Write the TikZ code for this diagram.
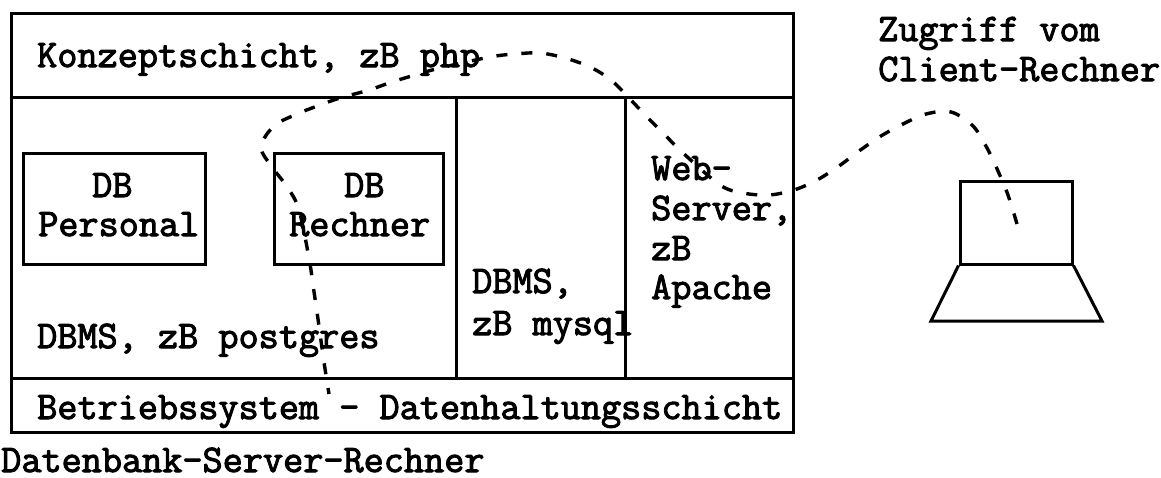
\documentclass[tikz,border=0pt]{standalone}
\usepackage{fontspec}
\setmonofont[FakeBold=2.6]{Latin Modern Mono}
\tikzset{
  px/.style={x=1pt,y=-1pt},
  frameline/.style={line width=3pt,draw=black},
  boxline/.style={frameline,inner sep=0pt,rectangle},
  lbl/.style={anchor=base west,inner sep=0pt,font=\fontsize{39.1}{39.1}\selectfont\ttfamily,text=black},
  link/.style={draw=black,line width=3.4pt,dash pattern=on 11pt off 14pt}
}
\begin{document}
\begin{tikzpicture}[px]
\useasboundingbox[fill=white] (0,0) rectangle (1161,477);
% outer frame and layers
\coordinate (oTL) at (11,13); \coordinate (oBR) at (793,432);
\draw[frameline] (oTL) rectangle (oBR);
\coordinate (l1a) at (11,97); \coordinate (l1b) at (793,97);
\coordinate (l2a) at (11,378); \coordinate (l2b) at (793,378);
\draw[frameline] (l1a) -- (l1b);
\draw[frameline] (l2a) -- (l2b);
\coordinate (v1a) at (456,97); \coordinate (v1b) at (456,378);
\coordinate (v2a) at (625,97); \coordinate (v2b) at (625,378);
\draw[frameline] (v1a) -- (v1b);
\draw[frameline] (v2a) -- (v2b);
% inner boxes
\node[boxline,minimum width=182pt,minimum height=111pt] (personal) at (114,208.5) {};
\node[boxline,minimum width=169pt,minimum height=111pt] (rechner) at (358.5,208.5) {};
% laptop
\node[boxline,minimum width=112pt,minimum height=83pt] (screen) at (1016,222.5) {};
\coordinate (bl) at (931,321); \coordinate (br) at (1102,321);
\draw[frameline] (screen.south west) -- (bl) -- (br) -- (screen.south east);
% labels
\node[lbl] (t1) at (37,67) {Konzeptschicht, zB php};
\node[lbl] (t2) at (92,197) {DB};
\node[lbl] (t3) at (38,236) {Personal};
\node[lbl] (t4) at (344,197) {DB};
\node[lbl] (t5) at (289,236) {Rechner};
\node[lbl] (t6) at (37,348) {DBMS, zB postgres};
\node[lbl] (t7) at (472,293) {DBMS,};
\node[lbl] (t8) at (472,335) {zB mysql};
\node[lbl] (t9) at (651,180) {Web-};
\node[lbl] (t10) at (651,220) {Server,};
\node[lbl] (t11) at (651,260) {zB};
\node[lbl] (t12) at (651,299) {Apache};
\node[lbl] (t13) at (37,419) {Betriebssystem - Datenhaltungsschicht};
\node[lbl] (t14) at (1,472) {Datenbank-Server-Rechner};
\node[lbl] (t15) at (878,41) {Zugriff vom};
\node[lbl] (t16) at (878,81) {Client-Rechner};
% dashed access path
\coordinate (start) at (1017,224);
\coordinate (stop) at (329,394);
\draw[link] plot[smooth,tension=0.55] coordinates {(start) (1008,195) (998,171) (987,148) (973,126) (951,112) (926,114) (903,124) (881,136) (859,151) (839,166) (817,180) (794,190) (769,195) (743,193) (720,185) (683,153) (665,135) (647,117) (629,98) (611,80) (590,67) (565,58) (540,53) (515,54) (490,57) (440,68) (415,75) (392,82) (369,90) (340,98) (320,105) (297,114) (274,126) (261,147) (272,167) (288,188) (299,210) (309,258) (313,285) (317,312) (324,362) (stop)};
\end{tikzpicture}
\end{document}
